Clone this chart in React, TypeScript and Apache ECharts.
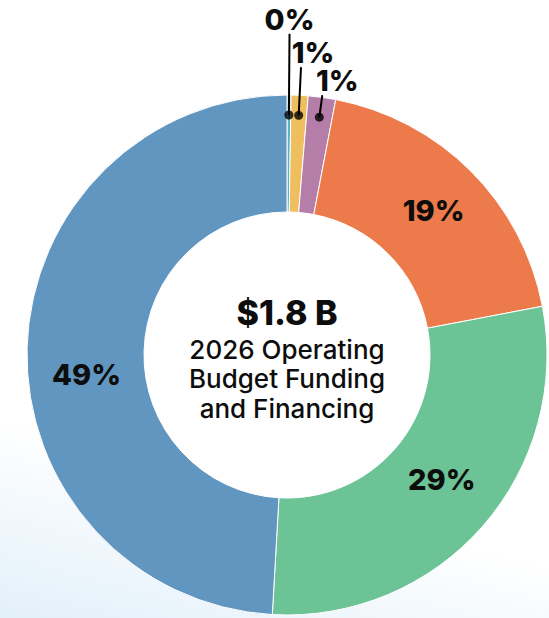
import React, { useEffect, useRef } from 'react';
import * as echarts from 'echarts';

// ---- data ----
const categories = ['Segment A', 'Segment B', 'Segment C', 'Segment D', 'Segment E', 'Segment F'];
const shares = [0.25, 1.05, 1.7, 19.0, 28.9, 49.1]; // percent of total, clockwise from top
const shareLabels = ['0%', '1%', '1%', '19%', '29%', '49%'];
const sliceColors = ['#56b4c6', '#efbe5f', '#b47ea9', '#ec7a4b', '#6bc396', '#6196c0'];
const totalLabel = '$1.8 B';
const titleLines = ['2026 Operating', 'Budget Funding', 'and Financing'];

// small slices labelled with leader lines
const smallIdx = [0, 1, 2];

export default function App() {
  const ref = useRef<HTMLDivElement>(null);

  useEffect(() => {
    const chart = echarts.init(ref.current as HTMLDivElement, null, { renderer: 'svg' });
    const total = shares.reduce((a, b) => a + b, 0);
    const mids: number[] = [];
    let acc = 0;
    shares.forEach((v) => {
      mids.push(acc + v / 2);
      acc += v;
    });

    const cx = 287;
    const cy = 355;
    const rIn = 143;
    const rOut = 260;
    const dotR = 240;
    const polarR = 340;
    const leaderEnd = [321, 288, 262];
    const leaderShift = [0, 12, 15];
    const bigShift: Record<number, [number, number]> = { 3: [2, 0], 4: [1, -10], 5: [4, 25] };
    const font = 'Inter, "Noto Sans", sans-serif';

    const option: any = {
      animation: false,
      polar: { center: [cx, cy], radius: [0, polarR] },
      angleAxis: { type: 'value', min: 0, max: total, startAngle: 90, clockwise: true, show: false },
      radiusAxis: { type: 'value', min: 0, max: polarR, show: false },
      series: [
        {
          type: 'pie',
          center: [cx, cy],
          radius: [rIn, rOut],
          startAngle: 90,
          clockwise: true,
          avoidLabelOverlap: false,
          silent: true,
          itemStyle: { borderColor: '#ffffff', borderWidth: 1 },
          labelLine: { show: false },
          labelLayout: (p: any) => {
            const s = bigShift[p.dataIndex];
            return s ? { dx: s[0], dy: s[1] } : {};
          },
          data: shares.map((v, i) => ({
            name: categories[i],
            value: v,
            itemStyle: { color: sliceColors[i] },
            label: smallIdx.includes(i)
              ? { show: false }
              : {
                  show: true,
                  position: 'inside',
                  formatter: shareLabels[i],
                  fontSize: 29,
                  fontWeight: 800,
                  fontFamily: font,
                  color: '#0d0d0d',
                },
          })),
        },
        ...smallIdx.map((i, k) => ({
          type: 'line',
          coordinateSystem: 'polar',
          symbol: 'none',
          silent: true,
          z: 9,
          lineStyle: { color: '#000000', width: 2 },
          data: [
            [dotR, mids[i]],
            [leaderEnd[k], mids[i]],
          ],
        })),
        {
          type: 'scatter',
          coordinateSystem: 'polar',
          symbol: 'circle',
          symbolSize: 9,
          silent: true,
          z: 10,
          itemStyle: { color: '#000000' },
          data: smallIdx.map((i) => [dotR, mids[i]]),
        },
        {
          type: 'scatter',
          coordinateSystem: 'polar',
          symbol: 'circle',
          symbolSize: 1,
          silent: true,
          z: 11,
          itemStyle: { color: '#000000', opacity: 1 },
          data: smallIdx.map((i, k) => ({
            value: [leaderEnd[k], mids[i]],
            label: {
              show: true,
              position: 'top',
              distance: 0,
              offset: [leaderShift[k], 0],
              formatter: shareLabels[i],
              fontSize: 29,
              fontWeight: 800,
              fontFamily: font,
              color: '#0d0d0d',
              opacity: 1,
            },
          })),
        },
      ],
      graphic: [
        {
          type: 'text',
          x: cx,
          y: 312,
          style: {
            text: totalLabel,
            fontSize: 34,
            fontWeight: 800,
            fontFamily: font,
            fill: '#0d0d0d',
            align: 'center',
            verticalAlign: 'middle',
          },
        },
        ...titleLines.map((t, k) => ({
          type: 'text',
          x: cx,
          y: 349 + k * 29.5,
          style: {
            text: t,
            fontSize: 26,
            fontWeight: 500,
            fontFamily: font,
            fill: '#0d0d0d',
            align: 'center',
            verticalAlign: 'middle',
          },
        })),
      ],
    };

    chart.setOption(option);
    return () => chart.dispose();
  }, []);

  return (
    <div
      ref={ref}
      style={{
        position: 'fixed',
        left: 0,
        top: 0,
        width: 549,
        height: 618,
        background: 'linear-gradient(15deg, #e2f0fa 0%, #ffffff 26%)',
      }}
    />
  );
}
